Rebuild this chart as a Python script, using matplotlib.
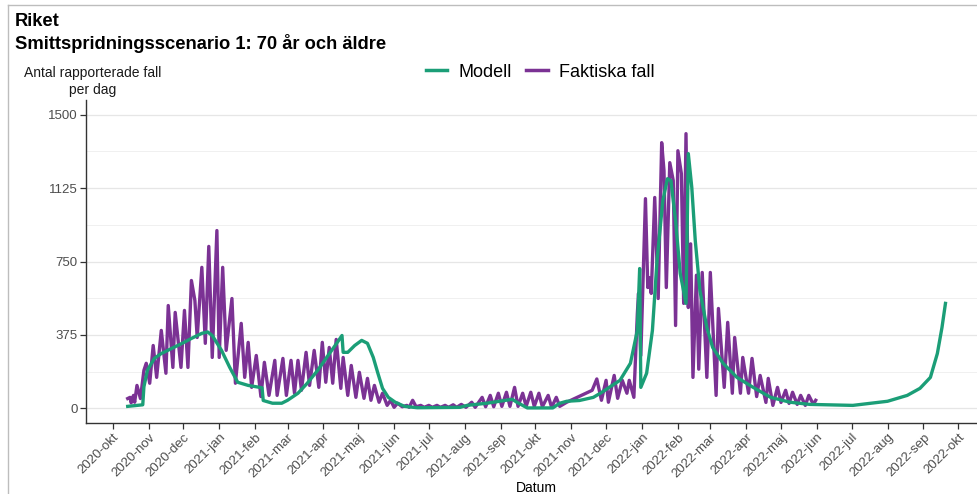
import matplotlib
matplotlib.use("Agg")
import matplotlib.pyplot as plt
from matplotlib.lines import Line2D
import pandas as pd

plt.rcParams['font.family'] = ['Liberation Sans', 'DejaVu Sans']

# --- data ---
model_dates = [
    "2020-10-14", "2020-10-27", "2020-10-28", "2020-10-31", "2020-11-06", "2020-11-12",
    "2020-11-21", "2020-11-30", "2020-12-08", "2020-12-17", "2020-12-22", "2020-12-26",
    "2021-01-03", "2021-01-10", "2021-01-17", "2021-01-26", "2021-02-07", "2021-02-08",
    "2021-02-16", "2021-02-24", "2021-03-01", "2021-03-10", "2021-03-18", "2021-03-27",
    "2021-04-05", "2021-04-13", "2021-04-17", "2021-04-18", "2021-04-22", "2021-04-28",
    "2021-05-04", "2021-05-09", "2021-05-14", "2021-05-18", "2021-05-22", "2021-05-27",
    "2021-06-02", "2021-06-10", "2021-06-21", "2021-07-28", "2021-08-03", "2021-08-20",
    "2021-08-31", "2021-09-11", "2021-09-15", "2021-09-24", "2021-10-16", "2021-10-22",
    "2021-10-28", "2021-11-08", "2021-11-20", "2021-11-26", "2021-12-13", "2021-12-22",
    "2021-12-28", "2021-12-30", "2021-12-31", "2022-01-05", "2022-01-10", "2022-01-14",
    "2022-01-19", "2022-01-23", "2022-01-26", "2022-01-30", "2022-02-03", "2022-02-08",
    "2022-02-10", "2022-02-13", "2022-02-16", "2022-02-20", "2022-02-26", "2022-03-03",
    "2022-03-12", "2022-03-24", "2022-04-07", "2022-04-22", "2022-05-09", "2022-05-26",
    "2022-07-02", "2022-08-01", "2022-08-18", "2022-08-29", "2022-09-07", "2022-09-13",
    "2022-09-17", "2022-09-20",
]
model_values = [
    10, 18, 110, 194, 255, 280,
    306, 332, 357, 383, 390, 372,
    296, 210, 133, 117, 105, 40,
    26, 26, 41, 77, 128, 194,
    270, 337, 372, 286, 286, 321,
    347, 332, 260, 179, 102, 56,
    31, 10, 3, 5, 15, 26,
    36, 46, 31, 2, 2, 26,
    36, 40, 56, 77, 143, 230,
    398, 714, 107, 179, 398, 755,
    1061, 1173, 1163, 959, 689, 536,
    1301, 1128, 857, 602, 413, 311,
    230, 158, 107, 56, 31, 20,
    15, 36, 66, 102, 158, 280,
    413, 536,
]

actual_dates = [
    "2020-10-14", "2020-10-16", "2020-10-17", "2020-10-19", "2020-10-20", "2020-10-22",
    "2020-10-25", "2020-10-28", "2020-10-30", "2020-11-02", "2020-11-05", "2020-11-08",
    "2020-11-12", "2020-11-16", "2020-11-18", "2020-11-22", "2020-11-24", "2020-11-29",
    "2020-12-02", "2020-12-05", "2020-12-08", "2020-12-11", "2020-12-13", "2020-12-17",
    "2020-12-20", "2020-12-23", "2020-12-26", "2020-12-30", "2021-01-01", "2021-01-04",
    "2021-01-07", "2021-01-12", "2021-01-15", "2021-01-20", "2021-01-23", "2021-01-26",
    "2021-01-29", "2021-02-02", "2021-02-06", "2021-02-09", "2021-02-13", "2021-02-18",
    "2021-02-20", "2021-02-25", "2021-02-28", "2021-03-04", "2021-03-07", "2021-03-10",
    "2021-03-13", "2021-03-17", "2021-03-20", "2021-03-24", "2021-03-28", "2021-03-31",
    "2021-04-03", "2021-04-06", "2021-04-09", "2021-04-12", "2021-04-16", "2021-04-18",
    "2021-04-22", "2021-04-25", "2021-04-29", "2021-05-02", "2021-05-06", "2021-05-09",
    "2021-05-12", "2021-05-15", "2021-05-19", "2021-05-22", "2021-05-26", "2021-05-29",
    "2021-06-01", "2021-06-04", "2021-06-08", "2021-06-12", "2021-06-14", "2021-06-17",
    "2021-06-20", "2021-06-24", "2021-06-27", "2021-07-01", "2021-07-04", "2021-07-08",
    "2021-07-11", "2021-07-15", "2021-07-18", "2021-07-22", "2021-07-25", "2021-07-29",
    "2021-08-02", "2021-08-07", "2021-08-10", "2021-08-16", "2021-08-19", "2021-08-23",
    "2021-08-26", "2021-08-30", "2021-09-02", "2021-09-06", "2021-09-09", "2021-09-13",
    "2021-09-16", "2021-09-20", "2021-09-23", "2021-09-27", "2021-09-30", "2021-10-04",
    "2021-10-07", "2021-10-12", "2021-10-15", "2021-10-19", "2021-10-22", "2021-10-28",
    "2021-11-19", "2021-11-23", "2021-11-27", "2021-12-01", "2021-12-03", "2021-12-08",
    "2021-12-11", "2021-12-15", "2021-12-19", "2021-12-21", "2021-12-25", "2021-12-28",
    "2021-12-29", "2021-12-31", "2022-01-04", "2022-01-06", "2022-01-07", "2022-01-09",
    "2022-01-12", "2022-01-15", "2022-01-18", "2022-01-20", "2022-01-22", "2022-01-25",
    "2022-01-28", "2022-01-30", "2022-02-01", "2022-02-04", "2022-02-06", "2022-02-08",
    "2022-02-10", "2022-02-12", "2022-02-14", "2022-02-17", "2022-02-19", "2022-02-22",
    "2022-02-26", "2022-03-01", "2022-03-06", "2022-03-08", "2022-03-13", "2022-03-16",
    "2022-03-20", "2022-03-22", "2022-03-27", "2022-03-29", "2022-04-03", "2022-04-06",
    "2022-04-10", "2022-04-13", "2022-04-18", "2022-04-20", "2022-04-24", "2022-04-28",
    "2022-05-01", "2022-05-05", "2022-05-08", "2022-05-11", "2022-05-15", "2022-05-18",
    "2022-05-22", "2022-05-25", "2022-05-29", "2022-05-31",
]
actual_values = [
    50, 56, 28, 66, 31, 117,
    50, 194, 230, 128, 321, 158,
    398, 179, 525, 209, 490, 209,
    500, 209, 653, 551, 362, 720,
    332, 827, 260, 908, 260, 720,
    296, 561, 128, 434, 158, 337,
    107, 270, 60, 235, 66, 245,
    66, 255, 66, 245, 77, 245,
    92, 286, 117, 296, 107, 337,
    133, 311, 128, 352, 102, 260,
    66, 219, 56, 184, 51, 153,
    41, 117, 31, 77, 15, 41,
    5, 26, 8, 15, 5, 41,
    8, 15, 5, 15, 5, 15,
    5, 15, 5, 18, 5, 20,
    5, 31, 5, 56, 8, 66,
    8, 77, 10, 82, 10, 107,
    10, 77, 10, 82, 10, 77,
    8, 66, 5, 56, 10, 31,
    92, 150, 41, 143, 31, 168,
    51, 143, 77, 143, 56, 485,
    587, 270, 1071, 617, 668, 587,
    1077, 561, 1357, 1214, 617, 1255,
    1163, 423, 1316, 1199, 536, 1403,
    515, 840, 158, 680, 200, 694,
    158, 694, 66, 510, 107, 439,
    77, 362, 77, 260, 77, 255,
    60, 168, 30, 153, 15, 107,
    30, 92, 25, 82, 20, 66,
    15, 66, 20, 41,
]

month_names = ["jan", "feb", "mar", "apr", "maj", "jun", "jul", "aug", "sep", "okt", "nov", "dec"]
y_ticks = [0, 375, 750, 1125, 1500]

col_model = '#1b9e77'
col_actual = '#7b3294'

W, H = 978, 494
fig = plt.figure(figsize=(W / 100, H / 100), dpi=100)
# panel: x 86..986 px, y 100..423 px (right edge runs past the crop)
ax = fig.add_axes([86 / W, (H - 423) / H, 900 / W, 323 / H])

ax.plot(pd.to_datetime(actual_dates), actual_values, color=col_actual, lw=2.4,
        solid_joinstyle='round', zorder=3)
ax.plot(pd.to_datetime(model_dates), model_values, color=col_model, lw=2.4,
        solid_joinstyle='round', zorder=4)

ax.set_xlim(pd.Timestamp("2020-09-08"), pd.Timestamp("2022-10-25"))
ax.set_ylim(-75, 1575)

# x ticks: every month
ticks = pd.date_range("2020-10-01", "2022-10-01", freq="MS")
ax.set_xticks(ticks)
ax.set_xticklabels([f"{t.year}-{month_names[t.month - 1]}" for t in ticks],
                   rotation=45, ha='right', va='top', rotation_mode='anchor',
                   fontsize=9.5, color='#4d4d4d')
ax.set_yticks(y_ticks)
ax.set_yticklabels([str(v) for v in y_ticks], fontsize=9.5, color='#4d4d4d')
ax.set_yticks([187.5, 562.5, 937.5, 1312.5], minor=True)
ax.tick_params(axis='both', which='major', length=4, width=0.9, color='#333333', pad=2)
ax.tick_params(axis='y', which='minor', length=0)

ax.grid(axis='y', which='major', color='#e6e6e6', lw=0.9, zorder=0)
ax.grid(axis='y', which='minor', color='#f0f0f0', lw=0.7, zorder=0)
ax.set_axisbelow(True)

for s in ['top', 'right']:
    ax.spines[s].set_visible(False)
for s in ['left', 'bottom']:
    ax.spines[s].set_color('#333333')
    ax.spines[s].set_linewidth(1.0)

# titles and labels
fig.text(15 / W, 1 - 26 / H, "Riket", fontsize=13.2, fontweight='bold', va='baseline')
fig.text(15 / W, 1 - 49 / H, "Smittspridningsscenario 1: 70 år och äldre",
         fontsize=13.2, fontweight='bold', va='baseline')
fig.text(93 / W, 1 - 66 / H, "Antal rapporterade fall\nper dag", fontsize=10,
         ha='center', va='top', linespacing=1.3, color='#1a1a1a')
fig.text(536 / W, 1 - 481 / H, "Datum", fontsize=10, ha='center', va='top')

handles = [Line2D([0], [0], color=col_model, lw=2.5, label='Modell'),
           Line2D([0], [0], color=col_actual, lw=2.5, label='Faktiska fall')]
fig.legend(handles=handles, loc='center', bbox_to_anchor=(540 / W, 1 - 72 / H),
           ncol=2, frameon=False, fontsize=13, handlelength=1.2, handletextpad=0.6,
           columnspacing=0.8, borderpad=0)

# thin frame of the original export (top and left edges)
fig.add_artist(Line2D([8 / W, 1], [1 - 5 / H, 1 - 5 / H], color='#bdbdbd', lw=1))
fig.add_artist(Line2D([8 / W, 8 / W], [0, 1 - 5 / H], color='#bdbdbd', lw=1))

fig.savefig("out.png", dpi=100)
